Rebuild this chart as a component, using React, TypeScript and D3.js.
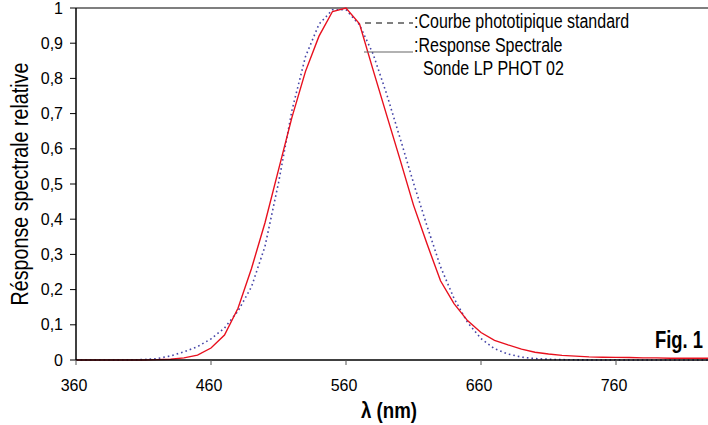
import React from "react";
import * as d3 from "d3";

// wavelengths every 10 nm
const wavelengths = d3.range(360, 840, 10);

// Courbe phototopique standard (dotted)
const standardCurve = [
  0, 0, 0, 0, 0.0004, 0.0012, 0.004, 0.0116, 0.023, 0.038, 0.06, 0.091, 0.139, 0.208,
  0.323, 0.503, 0.71, 0.862, 0.954, 0.995, 0.995, 0.952, 0.87, 0.757, 0.631, 0.503,
  0.381, 0.265, 0.175, 0.107, 0.061, 0.032, 0.017, 0.0082, 0.0041, 0.0021, 0.001,
  0.0005, 0.0002, 0.0001, 0, 0, 0, 0, 0, 0, 0, 0,
];

// Response spectrale sonde LP PHOT 02 (red)
const probeCurve = [
  0, 0, 0, 0, 0, 0, 0.001, 0.002, 0.006, 0.014, 0.034, 0.071, 0.147, 0.26, 0.39, 0.54,
  0.69, 0.82, 0.92, 0.99, 1.0, 0.955, 0.825, 0.697, 0.57, 0.44, 0.33, 0.225, 0.16,
  0.112, 0.078, 0.056, 0.043, 0.031, 0.022, 0.017, 0.013, 0.011, 0.009, 0.008, 0.0075,
  0.007, 0.006, 0.006, 0.005, 0.005, 0.005, 0.005,
];

const xTicks = [360, 460, 560, 660, 760];
const yTicks = d3.range(0, 11).map(d => d / 10);

const sans = "'Liberation Sans', Arial, sans-serif";

// condensed text: no narrow font installed, so squeeze it horizontally
const CondText = ({ x, y, size, anchor = "start", bold = false, rotate = 0, sx = 0.8, children }: any) => (
  <text
    transform={`translate(${x}, ${y}) rotate(${rotate}) scale(${sx}, 1)`}
    textAnchor={anchor}
    fontFamily={sans}
    fontSize={size}
    fontWeight={bold ? "bold" : "normal"}
  >
    {children}
  </text>
);

const App = () => {
  const width = 708;
  const height = 425;

  const x = d3.scaleLinear().domain([360, 830]).range([76, 710.5]);
  const y = d3.scaleLinear().domain([0, 1]).range([360, 8]);

  const line = d3
    .line<number>()
    .x((d, i) => x(wavelengths[i]))
    .y(d => y(d));

  const fmt = (v: number) => (v === 0 || v === 1 ? String(v) : d3.format(".1f")(v).replace(".", ","));

  return (
    <svg
      width={width}
      height={height}
      style={{ position: "absolute", left: 0, top: 0, background: "#fff" }}
    >
      {/* frame */}
      <line x1={76} x2={width} y1={8} y2={8} stroke="#000" strokeWidth={1.2} />

      {/* curves */}
      <path
        d={line(standardCurve) || ""}
        fill="none"
        stroke="#4646a8"
        strokeWidth={1.6}
        strokeDasharray="1.6,3"
      />
      <path d={line(probeCurve) || ""} fill="none" stroke="#e8101e" strokeWidth={1.4} />

      {/* y axis */}
      <line x1={76} x2={76} y1={8} y2={360} stroke="#000" strokeWidth={1.5} />
      {yTicks.map(t => (
        <g key={t}>
          <line x1={70} x2={76} y1={y(t)} y2={y(t)} stroke="#000" strokeWidth={1} />
          <text
            x={63}
            y={y(t)}
            dy="0.35em"
            textAnchor="end"
            fontFamily={sans}
            fontSize={16}
          >
            {fmt(t)}
          </text>
        </g>
      ))}

      {/* x axis */}
      <line x1={76} x2={width} y1={360} y2={360} stroke="#000" strokeWidth={1.5} />
      {xTicks.map(t => (
        <g key={t}>
          <line x1={x(t)} x2={x(t)} y1={360} y2={365} stroke="#555" strokeWidth={1} />
          <text
            x={x(t) - 2}
            y={391}
            textAnchor="middle"
            fontFamily={sans}
            fontSize={16}
          >
            {t}
          </text>
        </g>
      ))}

      {/* axis titles */}
      <CondText x={28} y={184} size={24} anchor="middle" rotate={-90} sx={0.82}>
        Résponse spectrale relative
      </CondText>
      <CondText x={389} y={418} size={22} anchor="middle" bold sx={0.85}>
        λ (nm)
      </CondText>

      {/* legend */}
      <line x1={365} x2={413} y1={23} y2={23} stroke="#000" strokeWidth={1} strokeDasharray="6,5" />
      <CondText x={414} y={28} size={20}>
        :Courbe phototipique standard
      </CondText>
      <line x1={364} x2={413} y1={52} y2={52} stroke="#666" strokeWidth={1.2} />
      <CondText x={414} y={52} size={20}>
        :Response Spectrale
      </CondText>
      <CondText x={423} y={75} size={20}>
        Sonde LP PHOT 02
      </CondText>

      {/* figure label */}
      <CondText x={703} y={348} size={23} anchor="end" bold sx={0.8}>
        Fig. 1
      </CondText>
    </svg>
  );
};

export default App;
